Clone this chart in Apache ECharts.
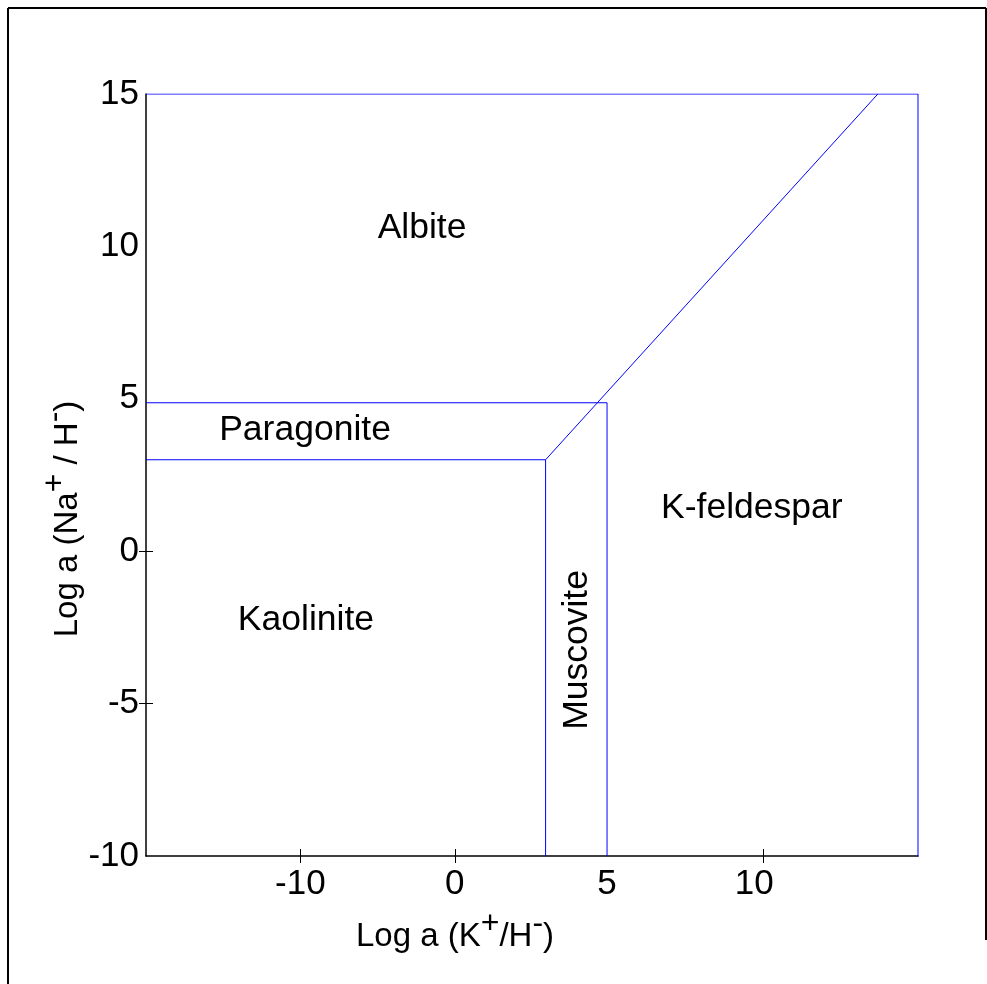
<!DOCTYPE html>
<html>
<head>
<meta charset="utf-8">
<script src="https://cdn.jsdelivr.net/npm/echarts@6/dist/echarts.min.js"></script>
<style>
  html, body { margin: 0; padding: 0; background: #fff; }
  #chart { width: 987px; height: 984px; }
</style>
</head>
<body>
<div id="chart"></div>
<script>
// phase boundaries, [log a(K+/H-), log a(Na+/H-)]
const kaoliniteTop = [[-10, 3], [2.94, 3]];
const kaoliniteRight = [[2.94, -10], [2.94, 3]];
const albiteDiagonal = [[2.94, 3], [13.7, 15]];
const paragoniteTop = [[-10, 4.87], [4.93, 4.87]];
const muscoviteRight = [[4.93, 4.87], [4.93, -10]];
const topEdge = [[-10, 15], [15, 15]];
const rightEdge = [[15, 15], [15, -10.07]];

// field names and where they sit
const fieldNames = ["Albite", "Paragonite", "Kaolinite", "K-feldespar", "Muscovite"];
const fieldX = [-1.06, -4.85, -4.82, 9.62, 3.96];
const fieldY = [10.6, 3.97, -2.26, 1.41, -3.24];

// axis ticks / labels
const xTickValues = [-5, 0, 10];
const xLabelValues = [-5, 0, 4.93, 9.7];
const xLabelTexts = ["-10", "0", "5", "10"];
const yTickValues = [-5, 0];
const yLabelValues = [-10, -5, 0, 5, 10, 15];
const yLabelTexts = ["-10", "-5", "0", "5", "10", "15"];

const FONT = "Liberation Sans, Arial, sans-serif";
const BLUE = "#0000ff";

const chart = echarts.init(document.getElementById("chart"));

function lineSeries(data) {
  return {
    type: "line",
    data: data,
    symbol: "none",
    silent: true,
    lineStyle: { color: BLUE, width: 1 },
    z: 3,
  };
}

function labelFor(values, texts) {
  return function (v) {
    for (let i = 0; i < values.length; i++) {
      if (Math.abs(values[i] - v) < 1e-6) return texts[i];
    }
    return "";
  };
}

const axisLineStyle = { show: true, onZero: false, lineStyle: { color: "#000", width: 1.5 } };
const tickStyle = { color: "#000", width: 1 };

const supRich = {
  sup: { fontFamily: FONT, fontSize: 32, fill: "#000", padding: [0, 0, 26, 0] },
};

const option = {
  animation: false,
  backgroundColor: "#fff",
  grid: { left: 146, top: 94, right: 69, bottom: 128 },
  xAxis: [
    {
      type: "value",
      min: -10,
      max: 15,
      position: "bottom",
      axisLine: axisLineStyle,
      splitLine: { show: false },
      axisTick: { show: true, customValues: xTickValues, length: 7, lineStyle: tickStyle },
      axisLabel: {
        customValues: xLabelValues,
        formatter: labelFor(xLabelValues, xLabelTexts),
        color: "#000",
        fontFamily: FONT,
        fontSize: 35,
        margin: 11,
      },
    },
    {
      type: "value",
      min: -10,
      max: 15,
      position: "bottom",
      axisLine: { show: false, onZero: false },
      splitLine: { show: false },
      axisTick: { show: true, inside: true, customValues: xTickValues, length: 7, lineStyle: tickStyle },
      axisLabel: { show: false },
    },
  ],
  yAxis: [
    {
      type: "value",
      min: -10,
      max: 15,
      position: "left",
      axisLine: axisLineStyle,
      splitLine: { show: false },
      axisTick: { show: true, customValues: yTickValues, length: 7, lineStyle: tickStyle },
      axisLabel: {
        customValues: yLabelValues,
        formatter: labelFor(yLabelValues, yLabelTexts),
        color: "#000",
        fontFamily: FONT,
        fontSize: 35,
        margin: 7,
      },
    },
    {
      type: "value",
      min: -10,
      max: 15,
      position: "left",
      axisLine: { show: false, onZero: false },
      splitLine: { show: false },
      axisTick: { show: true, inside: true, customValues: yTickValues, length: 7, lineStyle: tickStyle },
      axisLabel: { show: false },
    },
  ],
  graphic: [
    // outer frame
    { type: "line", shape: { x1: 8, y1: 8, x2: 986, y2: 8 }, style: { stroke: "#000", lineWidth: 2 } },
    { type: "line", shape: { x1: 8, y1: 8, x2: 8, y2: 984 }, style: { stroke: "#000", lineWidth: 2 } },
    { type: "line", shape: { x1: 986, y1: 8, x2: 986, y2: 940 }, style: { stroke: "#000", lineWidth: 2 } },
    // axis titles
    {
      type: "text",
      x: 455,
      y: 937,
      style: {
        text: "Log a (K{sup|+}/H{sup|-})",
        fontFamily: FONT,
        fontSize: 33,
        fill: "#000",
        align: "center",
        verticalAlign: "middle",
        rich: supRich,
      },
    },
    {
      type: "text",
      x: 68,
      y: 519,
      rotation: Math.PI / 2,
      style: {
        text: "Log a (Na{sup|+} / H{sup|-})",
        fontFamily: FONT,
        fontSize: 33,
        fill: "#000",
        align: "center",
        verticalAlign: "middle",
        rich: supRich,
      },
    },
  ],
  series: [
    lineSeries(kaoliniteTop),
    lineSeries(kaoliniteRight),
    lineSeries(albiteDiagonal),
    lineSeries(paragoniteTop),
    lineSeries(muscoviteRight),
    lineSeries(topEdge),
    lineSeries(rightEdge),
    {
      type: "scatter",
      symbolSize: 0,
      silent: true,
      itemStyle: { opacity: 1 },
      data: fieldNames.map((n, i) => ({
        name: n,
        value: [fieldX[i], fieldY[i]],
        label: { rotate: n === "Muscovite" ? 90 : 0 },
      })),
      label: {
        show: true,
        position: "inside",
        formatter: "{b}",
        color: "#000",
        opacity: 1,
        textBorderWidth: 0,
        fontFamily: FONT,
        fontSize: 35.5,
      },
    },
  ],
};

chart.setOption(option);
</script>
</body>
</html>
